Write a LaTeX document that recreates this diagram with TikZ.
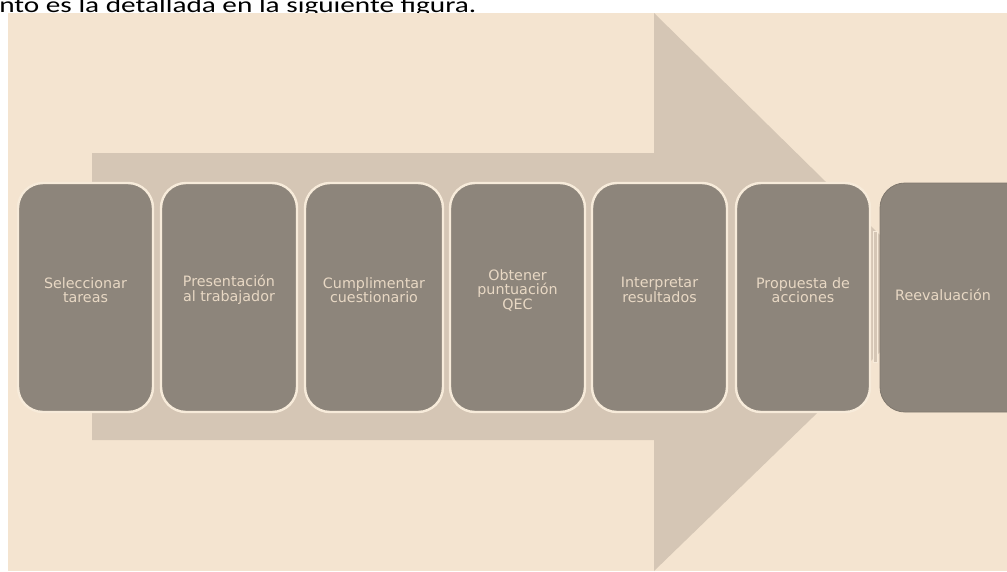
\documentclass[tikz,border=0pt]{standalone}
\usepackage{fontspec}
\setmainfont{DejaVu Sans}
\newfontfamily\bodyfont{Carlito}
\definecolor{bgbeige}{HTML}{F4E4D0}
\definecolor{arrowtan}{HTML}{D5C6B5}
\definecolor{boxgray}{HTML}{8D857B}
\definecolor{boxedge}{HTML}{80786E}
\definecolor{boxtext}{HTML}{E8D8C4}
\definecolor{rimcream}{HTML}{F7EBDA}
\tikzset{
  stepbox/.style={fill=boxgray, draw=rimcream, line width=2.4pt, rounded corners=25pt},
  laststep/.style={fill=boxgray, draw=boxedge, line width=0.8pt, rounded corners=25pt},
  steptext/.style={text=boxtext, align=center, font=\fontsize{14.3}{14.5}\selectfont, inner sep=0pt},
}
\begin{document}
\begin{tikzpicture}[x=1pt,y=-1pt]
\useasboundingbox (0,0) rectangle (1007,571);
\fill[white] (0,0) rectangle (1007,571);
\node[anchor=base west, inner sep=0pt, xscale=1.33, font=\bodyfont\fontsize{22}{24}\selectfont] (intro) at (-1,12.5) {nto es la detallada en la siguiente figura.};
\fill[bgbeige] (8,13) rectangle (1007,571);
\begin{scope}
\clip (8,13) rectangle (1007,571);
\fill[arrowtan] (92,153) -- (654,153) -- (654,13) -- (940,294) -- (654,571) -- (654,440) -- (92,440) -- cycle;
\end{scope}
\fill[arrowtan, draw=rimcream, line width=0.6pt] (873.5,231) rectangle (877.5,362);
\begin{scope}
\clip (0,0) rectangle (1007,571);
\draw[laststep] (880,183) rectangle (1035,412);
\end{scope}
\draw[stepbox] (18,183) rectangle (153,412);
\draw[stepbox] (161,183) rectangle (297,412);
\draw[stepbox] (305,183) rectangle (443,412);
\draw[stepbox] (450,183) rectangle (585,412);
\draw[stepbox] (592,183) rectangle (727,412);
\draw[stepbox] (736,183) rectangle (870,412);
\node[steptext] (s1) at (85.5,290) {Seleccionar\\tareas};
\node[steptext] (s2) at (229,290) {Presentación\\al trabajador};
\node[steptext] (s3) at (374,290) {Cumplimentar\\cuestionario};
\node[steptext] (s4) at (517.5,290) {Obtener\\puntuación\\QEC};
\node[steptext] (s5) at (659.5,290) {Interpretar\\resultados};
\node[steptext] (s6) at (803,290) {Propuesta de\\acciones};
\node[steptext] (s7) at (943,295) {Reevaluación};
\end{tikzpicture}
\end{document}
